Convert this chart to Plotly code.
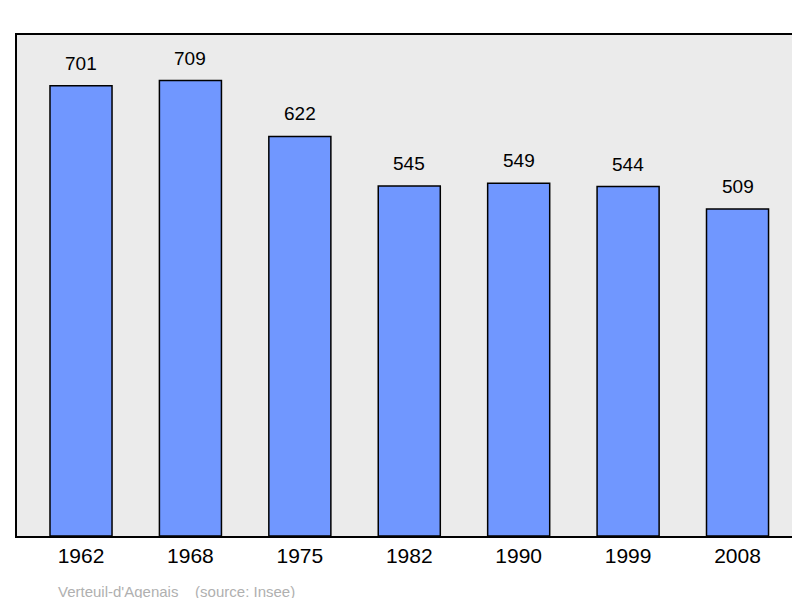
import plotly.graph_objects as go

years = ["1962", "1968", "1975", "1982", "1990", "1999", "2008"]
population = [701, 709, 622, 545, 549, 544, 509]

x = list(range(len(years)))
fig = go.Figure(go.Bar(
    x=x, y=population, width=0.567,
    marker=dict(color="#7097ff", line=dict(color="black", width=1.5)),
))
value_labels = [dict(x=xi, y=v, text=str(v), xref="x", yref="y", showarrow=False,
                     yanchor="bottom", yshift=10,
                     font=dict(size=19, color="black"))
                for xi, v in zip(x, population)]
fig.update_layout(
    width=800, height=598,
    margin=dict(l=9, r=8, t=27, b=70, autoexpand=False),
    plot_bgcolor="#ebebeb", paper_bgcolor="white",
    showlegend=False,
    font=dict(family="Liberation Sans"),
    xaxis=dict(range=[-0.585, 6.571], tickvals=x, ticktext=years,
               tickfont=dict(size=21, color="black"), showgrid=False,
               zeroline=False, ticks="", showline=True, linecolor="black",
               linewidth=2, mirror=True),
    yaxis=dict(range=[0, 780], visible=True, showticklabels=False,
               showgrid=False, zeroline=False, ticks="", showline=True,
               linecolor="black", linewidth=2, mirror=True),
    annotations=value_labels + [dict(text="Verteuil-d'Agenais&nbsp;&nbsp;&nbsp;&nbsp;(source: Insee)",
                      xref="paper", yref="paper", x=0.05, y=-0.11,
                      xanchor="left", yanchor="middle", showarrow=False,
                      font=dict(size=15, color="#b0b0b0"))],
)
fig.write_html("out.html")
